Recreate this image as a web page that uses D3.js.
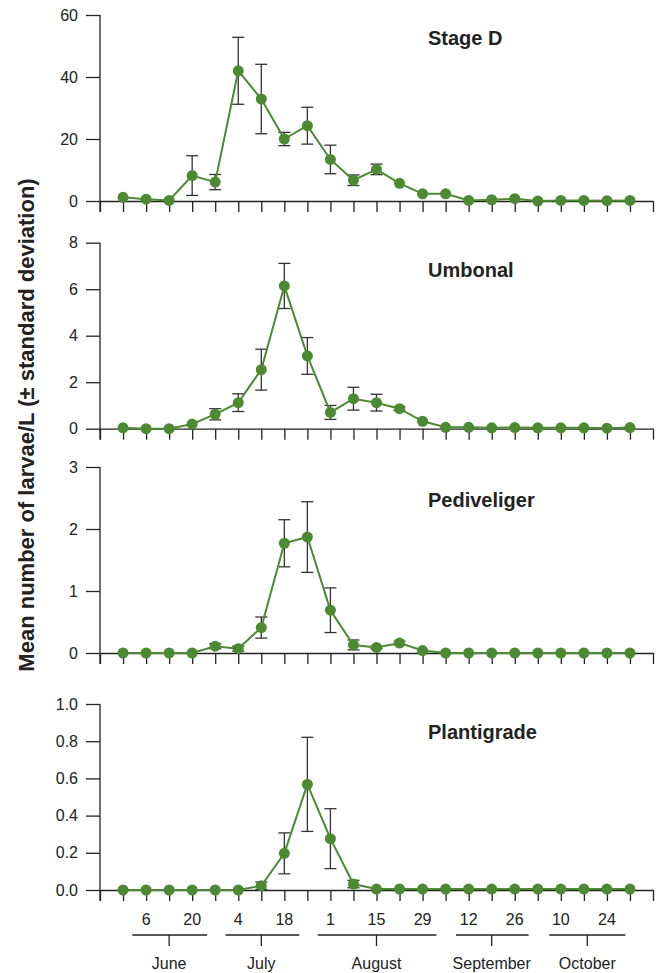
<!DOCTYPE html>
<html>
<head>
<meta charset="utf-8">
<script src="https://cdn.jsdelivr.net/npm/d3@7"></script>
<style>
  body { margin: 0; background: #fff; }
  svg { display: block; font-family: "Liberation Sans", Arial, sans-serif; }
</style>
</head>
<body>
<svg id="chart"></svg>
<script>
// weekly sampling dates
const sampleDates = ["30 May","6 Jun","13 Jun","20 Jun","27 Jun","4 Jul","11 Jul","18 Jul","25 Jul",
  "1 Aug","8 Aug","15 Aug","22 Aug","29 Aug","5 Sep","12 Sep","19 Sep","26 Sep",
  "3 Oct","10 Oct","17 Oct","24 Oct","31 Oct"];

const stageNames = ["Stage D", "Umbonal", "Pediveliger", "Plantigrade"];

const stageD_mean = [1.2,0.6,0.2,8.2,6.1,42.0,32.9,20.0,24.3,13.4,6.7,10.2,5.7,2.3,2.3,0.2,0.4,0.75,0,0.2,0.2,0.1,0.2];
const stageD_sd   = [0,0,0,6.4,2.45,10.8,11.2,2.15,5.95,4.6,1.7,1.7,0,0,0,0,0,0,0,0,0,0,0];

const umbonal_mean = [0.04,0,0,0.2,0.62,1.12,2.54,6.14,3.13,0.70,1.29,1.12,0.86,0.32,0.06,0.06,0.04,0.05,0.04,0.04,0.04,0.02,0.05];
const umbonal_sd   = [0,0,0,0,0.24,0.38,0.88,0.97,0.79,0.30,0.49,0.36,0.08,0,0,0,0,0,0,0,0,0,0];

const pedi_mean = [0,0,0,0,0.11,0.07,0.41,1.77,1.87,0.69,0.13,0.09,0.16,0.04,0,0,0,0,0,0,0,0,0];
const pedi_sd   = [0,0,0,0,0.04,0.04,0.17,0.38,0.57,0.36,0.08,0.02,0.03,0,0,0,0,0,0,0,0,0,0];

const planti_mean = [0,0,0,0,0,0,0.023,0.197,0.568,0.276,0.032,0.005,0.005,0.005,0.005,0.005,0.005,0.005,0.005,0.005,0.005,0.005,0.005];
const planti_sd   = [0,0,0,0,0,0,0.02,0.11,0.253,0.161,0.02,0,0,0,0,0,0,0,0,0,0,0,0];

const yMax   = [60, 8, 3, 1.0];
const yTicks = [[0,20,40,60],[0,2,4,6,8],[0,1,2,3],[0,0.2,0.4,0.6,0.8,1.0]];
const yFormat = ["d","d","d",".1f"];

// months: first / last sample index covered by the bracket, and the centre index
const months = ["June","July","August","September","October"];
const monthFrom = [0.4, 4.45, 8.45, 14.45, 18.5];
const monthTo   = [3.65, 7.65, 13.6, 17.6, 21.8];
const monthMid  = [2, 6, 11, 16, 20.15];

const means = [stageD_mean, umbonal_mean, pedi_mean, planti_mean];
const sds = [stageD_sd, umbonal_sd, pedi_sd, planti_sd];

const width = 661, height = 973;
const green = "#4b8a32";
const ink = "#222";
const panelTop = [15, 242.7, 467, 704];
const panelH = 186;
const titleDy = [30, 34, 39.7, 35.3];

const svg = d3.select("#chart").attr("width", width).attr("height", height);

// index -1 and 23 are the empty ends of the axis
const x = d3.scaleLinear().domain([-1, sampleDates.length]).range([100, 653]);
const tickIdx = d3.range(-1, sampleDates.length + 1);

stageNames.forEach((name, p) => {
  const top = panelTop[p];
  const y = d3.scaleLinear().domain([0, yMax[p]]).range([top + panelH, top]);
  const g = svg.append("g");

  // y axis
  const ya = g.append("g")
    .attr("transform", `translate(${x(-1)},0)`)
    .call(d3.axisLeft(y).tickValues(yTicks[p]).tickFormat(d3.format(yFormat[p])).tickSize(14).tickPadding(8).tickSizeOuter(0));
  ya.select(".domain").remove();
  ya.selectAll("line").attr("stroke", ink).attr("stroke-width", 1.3);
  ya.selectAll("text").attr("fill", ink).style("font-size", "16px");
  g.append("line")
    .attr("x1", x(-1)).attr("x2", x(-1))
    .attr("y1", top).attr("y2", y(0) + 11)
    .attr("stroke", ink).attr("stroke-width", 1.3);

  // x axis with a tick for each sample
  const xa = g.append("g")
    .attr("transform", `translate(0,${y(0)})`)
    .call(d3.axisBottom(x).tickValues(tickIdx).tickSize(11).tickFormat("").tickSizeOuter(0));
  xa.select(".domain").attr("stroke", ink).attr("stroke-width", 1.3);
  xa.selectAll("line").attr("stroke", ink).attr("stroke-width", 1.3);

  const data = means[p].map((m, i) => ({ i: i, m: m, sd: sds[p][i] }));

  // error bars
  const eb = g.selectAll(".eb").data(data.filter(d => d.sd > 0)).enter().append("g");
  eb.append("line")
    .attr("x1", d => x(d.i)).attr("x2", d => x(d.i))
    .attr("y1", d => y(d.m + d.sd)).attr("y2", d => y(Math.max(0, d.m - d.sd)))
    .attr("stroke", "#333").attr("stroke-width", 1.3);
  [1, -1].forEach(s => {
    eb.append("line")
      .attr("x1", d => x(d.i) - 6).attr("x2", d => x(d.i) + 6)
      .attr("y1", d => y(Math.max(0, d.m + s * d.sd))).attr("y2", d => y(Math.max(0, d.m + s * d.sd)))
      .attr("stroke", "#333").attr("stroke-width", 1.3);
  });

  g.append("path")
    .datum(data)
    .attr("fill", "none")
    .attr("stroke", green)
    .attr("stroke-width", 2)
    .attr("d", d3.line().x(d => x(d.i)).y(d => y(d.m)));

  g.selectAll(".pt").data(data).enter().append("circle")
    .attr("cx", d => x(d.i)).attr("cy", d => y(d.m))
    .attr("r", 5.5).attr("fill", green);

  g.append("text")
    .attr("x", 428).attr("y", top + titleDy[p])
    .attr("fill", ink)
    .style("font-size", "20px").style("font-weight", "bold")
    .text(name);
});

// date labels under the last panel
const base = panelTop[3] + panelH;
svg.append("g").selectAll("text")
  .data(sampleDates.map((d, i) => ({ i: i, day: d.split(" ")[0] })).filter(d => d.i % 2 === 1))
  .enter().append("text")
  .attr("x", d => x(d.i)).attr("y", base + 35)
  .attr("text-anchor", "middle").attr("fill", ink)
  .style("font-size", "16px")
  .text(d => d.day);

const mg = svg.append("g").selectAll("g").data(months).enter().append("g");
mg.append("line")
  .attr("x1", (d, k) => x(monthFrom[k])).attr("x2", (d, k) => x(monthTo[k]))
  .attr("y1", base + 45).attr("y2", base + 45)
  .attr("stroke", ink).attr("stroke-width", 1.3);
mg.append("line")
  .attr("x1", (d, k) => x(monthMid[k])).attr("x2", (d, k) => x(monthMid[k]))
  .attr("y1", base + 45).attr("y2", base + 56)
  .attr("stroke", ink).attr("stroke-width", 1.3);
mg.append("text")
  .attr("x", (d, k) => x(monthMid[k])).attr("y", base + 79)
  .attr("text-anchor", "middle").attr("fill", ink)
  .style("font-size", "16px")
  .text(d => d);

// shared y title
svg.append("text")
  .attr("transform", "translate(34,425) rotate(-90)")
  .attr("text-anchor", "middle").attr("fill", ink)
  .style("font-size", "22px").style("font-weight", "bold")
  .text("Mean number of larvae/L (± standard deviation)");
</script>
</body>
</html>
